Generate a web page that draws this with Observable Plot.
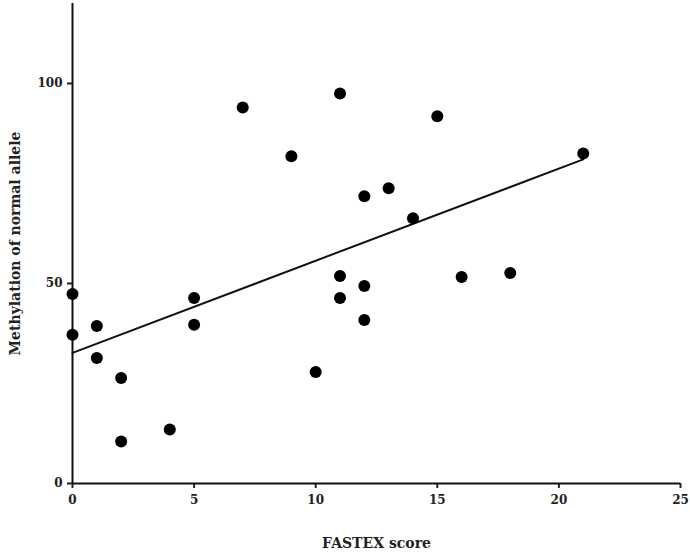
<!DOCTYPE html>
<html><head><meta charset="utf-8">
<script src="https://cdn.jsdelivr.net/npm/d3@7"></script>
<script src="https://cdn.jsdelivr.net/npm/@observablehq/plot@0.6"></script>
<style>body{margin:0;background:#fff}</style>
</head><body><div id="chart"></div>
<script>
const fastex = [0,0,1,1,2,2,4,5,5,7,9,10,11,11,11,12,12,12,13,14,15,16,18,21];
const methylation = [47.4,37.2,39.4,31.4,26.4,10.5,13.5,46.4,39.7,94.0,81.8,27.9,97.5,51.9,46.4,71.8,49.4,40.9,73.8,66.3,91.8,51.6,52.6,82.5];
const xTicks = [0,5,10,15,20,25];
const yTicks = [0,50,100];
const data = fastex.map((x,i)=>({x, y: methylation[i]}));
const chart = Plot.plot({
  width: 690, height: 553,
  marginLeft: 72, marginRight: 10, marginTop: 3, marginBottom: 70,
  style: {fontFamily: "'DejaVu Serif', serif", fontSize: "12px", fontWeight: "bold", color: "#222"},
  x: {domain: [0,25], ticks: xTicks, tickSize: 5, tickPadding: 7, label: "FASTEX score", labelAnchor: "center", labelOffset: 64, labelArrow: "none"},
  y: {domain: [0,120], ticks: yTicks, tickSize: 5, tickPadding: 5, label: "Methylation of normal allele", labelAnchor: "center", labelOffset: 62, labelArrow: "none"},
  marks: [
    Plot.ruleX([0], {stroke: "#111", strokeWidth: 2}),
    Plot.ruleY([0], {stroke: "#111", strokeWidth: 2}),
    Plot.linearRegressionY(data, {x: "x", y: "y", ci: 0, stroke: "#111", strokeWidth: 2}),
    Plot.dot(data, {x: "x", y: "y", r: 6, fill: "#000", stroke: "none"})
  ]
});
chart.querySelectorAll("[aria-label='x-axis tick'], [aria-label='y-axis tick']").forEach(g=>{g.setAttribute("stroke-width","2");});
chart.querySelectorAll("[aria-label='x-axis label'], [aria-label='y-axis label']").forEach(g=>{g.setAttribute("font-size","14");g.setAttribute("font-weight","bold");});
document.getElementById("chart").appendChild(chart);
</script></body></html>
